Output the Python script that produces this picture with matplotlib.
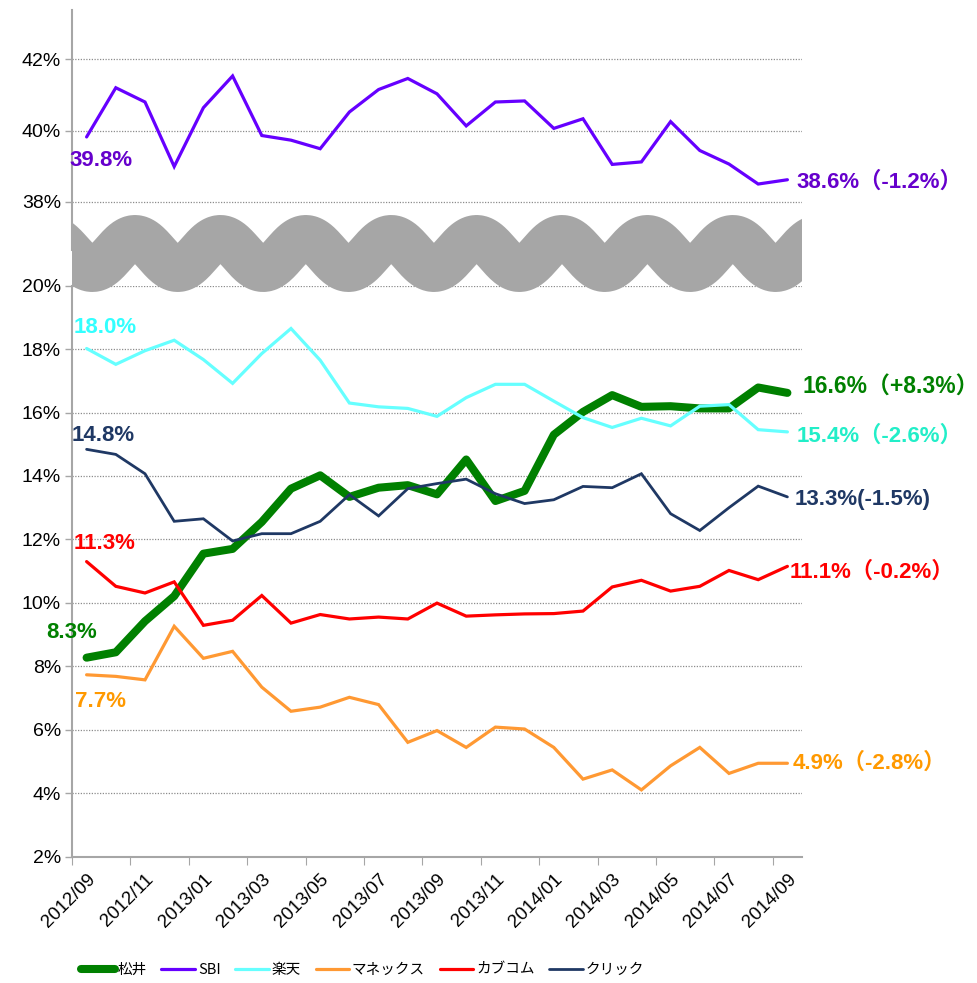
import numpy as np
import matplotlib
matplotlib.use("Agg")
import matplotlib.pyplot as plt

plt.rcParams['font.family'] = ['Liberation Sans', 'Noto Sans CJK JP']

# 月次データ (%)
months = ['2012/09', '2012/10', '2012/11', '2012/12', '2013/01', '2013/02', '2013/03',
          '2013/04', '2013/05', '2013/06', '2013/07', '2013/08', '2013/09', '2013/10',
          '2013/11', '2013/12', '2014/01', '2014/02', '2014/03', '2014/04', '2014/05',
          '2014/06', '2014/07', '2014/08', '2014/09']

matsui = [8.27, 8.44, 9.42, 10.21, 11.55, 11.70, 12.55, 13.60, 14.02, 13.34, 13.63, 13.71,
          13.42, 14.52, 13.21, 13.53, 15.30, 16.02, 16.55, 16.18, 16.20, 16.13, 16.13,
          16.79, 16.62]
sbi = [39.82, 41.20, 40.80, 38.99, 40.64, 41.53, 39.86, 39.73, 39.49, 40.52, 41.15, 41.46,
       41.03, 40.13, 40.80, 40.83, 40.06, 40.33, 39.05, 39.12, 40.25, 39.44, 39.06, 38.50,
       38.62]
rakuten = [18.02, 17.52, 17.95, 18.28, 17.67, 16.92, 17.86, 18.65, 17.65, 16.30, 16.18,
           16.13, 15.88, 16.47, 16.89, 16.89, 16.36, 15.84, 15.53, 15.82, 15.58, 16.20,
           16.25, 15.46, 15.39]
monex = [7.73, 7.68, 7.57, 9.26, 8.25, 8.47, 7.34, 6.58, 6.71, 7.02, 6.79, 5.60, 5.97, 5.44,
         6.08, 6.02, 5.44, 4.44, 4.73, 4.10, 4.86, 5.44, 4.62, 4.94, 4.94]
kabucom = [11.30, 10.52, 10.31, 10.66, 9.29, 9.45, 10.23, 9.36, 9.63, 9.49, 9.55, 9.49,
           9.99, 9.58, 9.62, 9.65, 9.66, 9.74, 10.50, 10.71, 10.37, 10.52, 11.02, 10.73,
           11.15]
click = [14.84, 14.68, 14.07, 12.57, 12.65, 11.95, 12.18, 12.18, 12.57, 13.41, 12.74, 13.60,
         13.76, 13.90, 13.44, 13.13, 13.25, 13.67, 13.63, 14.07, 12.81, 12.28, 13.00, 13.68,
         13.34]

names = ['松井', 'SBI', '楽天', 'マネックス', 'カブコム', 'クリック']
start_labels = ['8.3%', '39.8%', '18.0%', '7.7%', '11.3%', '14.8%']
end_labels = ['16.6%（+8.3%）', '38.6%（-1.2%）', '15.4%（-2.6%）', '4.9%（-2.8%）',
              '11.1%（-0.2%）', '13.3%(-1.5%)']

line_colors = ['#008000', '#6600FF', '#66FFFF', '#FF9933', '#FF0000', '#1F3864']
start_colors = ['#008000', '#6600CC', '#33FFFF', '#FF9900', '#FF0000', '#1F3864']
end_colors = ['#008000', '#6600CC', '#22EEC8', '#FF9900', '#FF0000', '#1F3864']
widths = [5.8, 2.3, 2.3, 2.3, 2.3, 2.0]
# ラベル位置 (offset points)
start_off = [(-29, 18), (-12, -17), (-9, 15), (-8, -19), (-9, 13), (-11, 10)]
end_off = [(11, 4), (6.5, -2), (6.5, -3), (4, 0), (1.5, -4), (5, -2)]

series = [matsui, sbi, rakuten, monex, kabucom, click]
x = np.arange(len(months))

W, H = 978, 983
fig = plt.figure(figsize=(W / 100, H / 100), dpi=100)

def frac(left, top, right, bottom):
    return [left / W, 1 - bottom / H, (right - left) / W, (bottom - top) / H]

ax_top = fig.add_axes(frac(72, 10, 802, 250))
ax_bot = fig.add_axes(frac(72, 285.7, 802, 856.5))

ax_top.set_ylim(36.65, 43.38)
ax_bot.set_ylim(2, 20)
grid_col = '#8C8C8C'
spine_col = '#A6A6A6'

for ax in (ax_top, ax_bot):
    ax.set_xlim(-0.5, len(months) - 0.5)
    ax.spines['top'].set_visible(False)
    ax.spines['right'].set_visible(False)
    ax.spines['left'].set_color(spine_col)
    ax.spines['left'].set_linewidth(1.5)
    ax.tick_params(axis='y', length=5, width=1, color=spine_col, labelsize=14, pad=3)
    ax.yaxis.grid(True, color=grid_col, linestyle=(0, (1, 1.2)), linewidth=0.9)
    ax.set_axisbelow(True)
    ax.patch.set_alpha(0)

ax_top.set_yticks([38, 40, 42])
ax_top.set_yticklabels(['38%', '40%', '42%'])
ax_top.spines['bottom'].set_visible(False)
ax_top.set_xticks([])

ax_bot.set_yticks(np.arange(2, 21, 2))
ax_bot.set_yticklabels([f'{v}%' for v in range(2, 21, 2)])
ax_bot.spines['bottom'].set_color(spine_col)
ax_bot.spines['bottom'].set_linewidth(1.5)
ax_bot.set_xticks(np.arange(-0.5, len(months) - 1, 2))
ax_bot.set_xticklabels([])
ax_bot.tick_params(axis='x', which='major', length=6, color=spine_col)
ax_bot.set_xticks(x[::2], minor=True)
ax_bot.set_xticklabels(months[::2], minor=True, rotation=45, ha='right',
                       rotation_mode='anchor', fontsize=13.5)
ax_bot.tick_params(axis='x', which='minor', length=0, pad=10)

handles = []
for i, vals in enumerate(series):
    ax = ax_top if names[i] == 'SBI' else ax_bot
    ln, = ax.plot(x, vals, color=line_colors[i], lw=widths[i], label=names[i],
                  solid_joinstyle='miter' if i else 'round', solid_capstyle='round')
    handles.append(ln)
    ax.annotate(start_labels[i], (x[0], vals[0]), xytext=start_off[i],
                textcoords='offset points', ha='left', va='center', color=start_colors[i],
                fontsize=16, fontweight='bold', annotation_clip=False)
    ax.annotate(end_labels[i], (x[-1], vals[-1]), xytext=end_off[i],
                textcoords='offset points', ha='left', va='center', color=end_colors[i],
                fontsize=16.5 if i == 0 else 16, fontweight='bold', annotation_clip=False)

# 省略記号 (波線)
ax_wave = fig.add_axes(frac(72, 195, 802, 305), zorder=5)
ax_wave.set_xlim(72, 802)
ax_wave.set_ylim(305, 195)
ax_wave.axis('off')
xw = np.linspace(50, 830, 800)
yw = 253.5 - 15.5 * np.cos(2 * np.pi * (xw - 135) / 85.4)
ax_wave.plot(xw, yw, color='#A6A6A6', lw=46 * 0.72, solid_capstyle='butt')

leg = fig.legend(handles=handles, loc='center left', bbox_to_anchor=(68 / W, 1 - 970 / H),
                 ncol=6, frameon=False, handlelength=2.3, handletextpad=0.2,
                 columnspacing=1.0, prop={'family': 'Noto Sans CJK JP', 'size': 10.5})

fig.savefig('out.png', dpi=100)
